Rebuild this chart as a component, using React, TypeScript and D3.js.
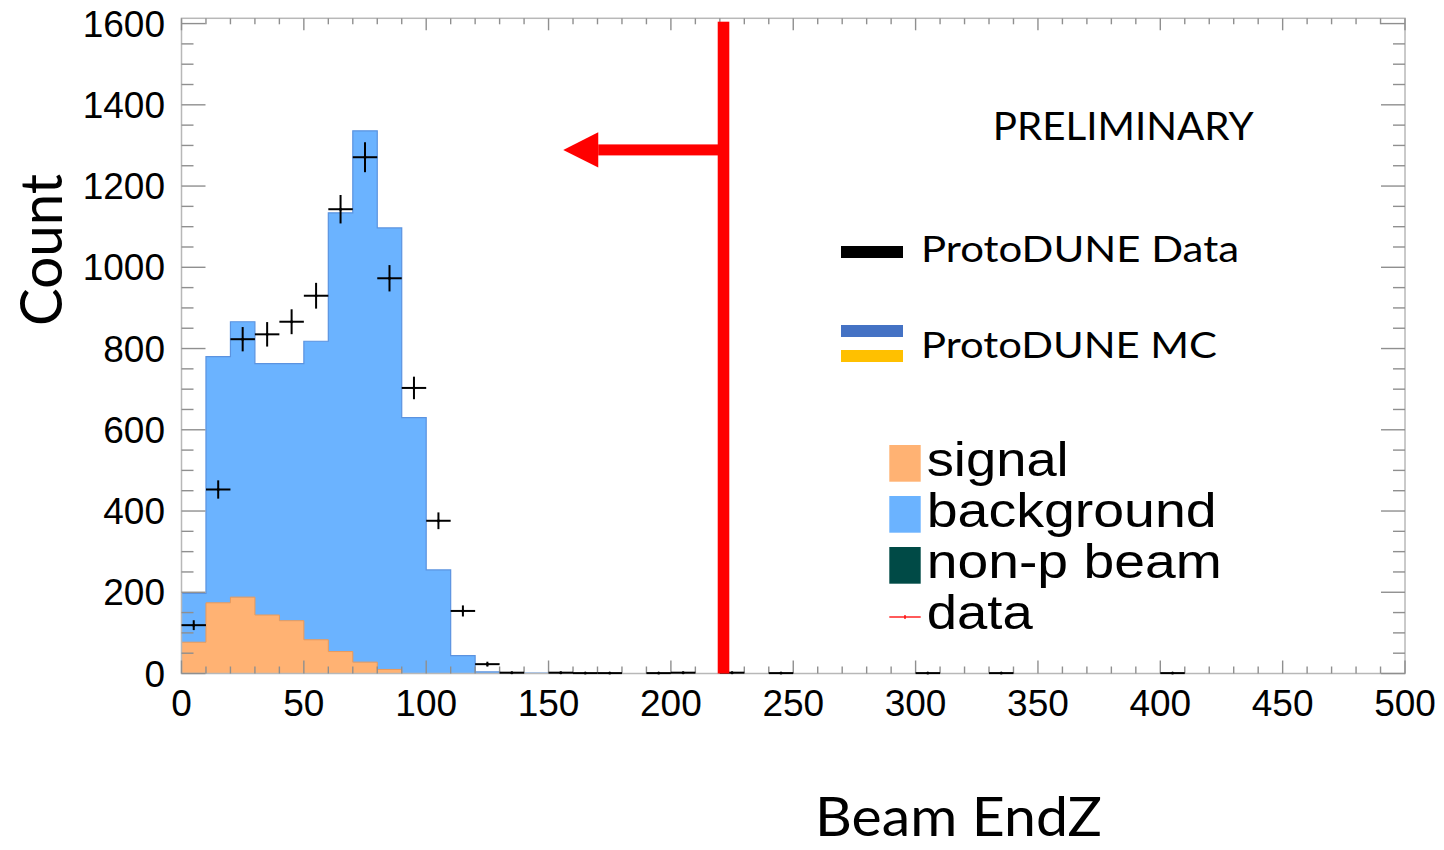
import React from "react";
import * as d3 from "d3";

// ---- data ----
const binWidth = 10;
const xDomain = [0, 500];
const xTickValues = [0, 50, 100, 150, 200, 250, 300, 350, 400, 450, 500];
const yTickValues = [0, 200, 400, 600, 800, 1000, 1200, 1400, 1600];
// stacked MC histogram, bins of 10 starting at 0 (remaining bins are empty)
const signal = [77, 174, 188, 144, 130, 83, 54, 28, 10, 0, 0, 0, 0, 0, 0];
const background = [120, 606, 678, 619, 633, 735, 1080, 1308, 1087, 630, 255, 44, 4, 1, 1];
// ProtoDUNE data points (bin centers and counts)
const dataCenters = [5, 15, 25, 35, 45, 55, 65, 75, 85, 95, 105, 115, 125, 135, 155, 165, 175, 195, 205, 225, 245, 305, 335, 405];
const dataCounts = [119, 453, 823, 835, 866, 930, 1143, 1271, 973, 703, 376, 154, 23, 2, 2, 1, 1, 1, 2, 2, 1, 1, 1, 1];
// annotation: cut value and arrow
const cutValue = 221.5;
const arrowY = 1289;
const arrowTip = 156;
const legendEntries = ["signal", "background", "non-p beam", "data"];

const W = 1444;
const H = 850;
const PL = 181.5, PR = 1405, PT = 18.3, PB = 673.5;

export default function App() {
  const x = d3.scaleLinear().domain(xDomain).range([PL, PR]);
  const y = d3.scaleLinear().domain([0, 1613]).range([PB, PT]);

  const stepPts = (vals: number[]) => {
    const pts: [number, number][] = [];
    vals.forEach((v, i) => {
      pts.push([i * binWidth, v]);
      pts.push([(i + 1) * binWidth, v]);
    });
    return pts;
  };
  const total = signal.map((s, i) => s + background[i]);
  const area = d3
    .area<[number, number]>()
    .x((d) => x(d[0]))
    .y0(y(0))
    .y1((d) => y(d[1]));
  const line = d3
    .line<[number, number]>()
    .x((d) => x(d[0]))
    .y((d) => y(d[1]));

  const minorX = d3.range(0, 501, 10);
  const minorY = d3.range(0, 1601, 50);
  const tickCol = "#8f8f8f";
  const frameCol = "#b8b8b8";

  const xc = x(cutValue);
  const ay = y(arrowY);
  const tipX = x(arrowTip);

  const officeFont = "Lato, 'Open Sans', sans-serif";
  const rootFont = "'Liberation Sans', Arial, sans-serif";

  const boxColors = ["#ffb273", "#6bb3ff", "#004a46"];

  return (
    <svg
      width={W}
      height={H}
      style={{ position: "absolute", left: 0, top: 0, display: "block", background: "#fff" }}
    >
      <rect x={0} y={0} width={W} height={H} fill="#fff" />
      {/* MC stacks */}
      <path d={area(stepPts(total)) || ""} fill="#6bb3ff" />
      <path d={line(stepPts(total)) || ""} fill="none" stroke="#5b93e0" strokeWidth={1.2} />
      <path d={area(stepPts(signal)) || ""} fill="#ffb273" />
      <path d={line(stepPts(signal)) || ""} fill="none" stroke="#e99a5a" strokeWidth={1} />

      {/* frame */}
      <rect x={PL} y={PT} width={PR - PL} height={PB - PT} fill="none" stroke={frameCol} strokeWidth={1.5} />
      {/* x ticks bottom/top */}
      {minorX.map((v) => {
        const major = v % 50 === 0;
        return (
          <g key={"xt" + v} stroke={tickCol} strokeWidth={1.4}>
            <line x1={x(v)} x2={x(v)} y1={PB} y2={PB - (major ? 13 : 7)} />
            <line x1={x(v)} x2={x(v)} y1={PT} y2={PT + (major ? 12 : 6)} />
          </g>
        );
      })}
      {minorY.map((v) => {
        const major = v % 200 === 0;
        return (
          <g key={"yt" + v} stroke={tickCol} strokeWidth={1.4}>
            <line x1={PL} x2={PL + (major ? 24 : 12)} y1={y(v)} y2={y(v)} />
            <line x1={PR} x2={PR - (major ? 24 : 12)} y1={y(v)} y2={y(v)} />
          </g>
        );
      })}

      {/* data points */}
      {dataCenters.map((c, i) => {
        const n = dataCounts[i];
        const e = Math.sqrt(n);
        return (
          <g key={"d" + i} stroke="#000" strokeWidth={2}>
            <line x1={x(c - binWidth / 2)} x2={x(c + binWidth / 2)} y1={y(n)} y2={y(n)} />
            <line x1={x(c)} x2={x(c)} y1={y(n - e) + 0.5} y2={y(n + e) - 0.5} />
            <circle cx={x(c)} cy={y(n)} r={1.5} fill="#000" stroke="none" />
          </g>
        );
      })}

      {/* tick labels */}
      {yTickValues.map((v) => (
        <text key={"yl" + v} x={165} y={y(v) + 13} textAnchor="end" fontFamily={rootFont} fontSize={37} fill="#000">
          {v}
        </text>
      ))}
      {xTickValues.map((v) => (
        <text key={"xl" + v} x={x(v)} y={716} textAnchor="middle" fontFamily={rootFont} fontSize={37} fill="#000">
          {v}
        </text>
      ))}

      {/* cut line and arrow */}
      <rect x={xc - 5.8} y={21.7} width={11.6} height={PB - 21.7} fill="#ff0000" />
      <rect x={tipX + 35} y={ay - 5.5} width={xc - tipX - 35} height={11} fill="#ff0000" />
      <path d={`M${tipX},${ay} L${tipX + 35},${ay - 17.7} L${tipX + 35},${ay + 17.7} Z`} fill="#ff0000" />

      {/* PRELIMINARY */}
      <text x={992.7} y={140} fontFamily={officeFont} fontSize={39} textLength={261} lengthAdjust="spacingAndGlyphs" fill="#000">
        PRELIMINARY
      </text>

      {/* Office legend */}
      <rect x={841} y={246} width={62} height={12} fill="#000" />
      <text x={921} y={262} fontFamily={officeFont} fontSize={36} textLength={318} lengthAdjust="spacingAndGlyphs" fill="#000">
        ProtoDUNE Data
      </text>
      <rect x={841} y={325} width={62} height={12} fill="#4472c4" />
      <rect x={841} y={350} width={62} height={12} fill="#ffc000" />
      <text x={921} y={358} fontFamily={officeFont} fontSize={36} textLength={296} lengthAdjust="spacingAndGlyphs" fill="#000">
        ProtoDUNE MC
      </text>

      {/* ROOT legend */}
      {legendEntries.map((lab, i) => {
        const top = 445 + i * 51;
        const lens = [142, 290, 295, 106];
        return (
          <g key={"lg" + i}>
            {i < 3 ? (
              <rect x={889.3} y={top} width={31.4} height={36.7} fill={boxColors[i]} />
            ) : (
              <g stroke="#ff0000" strokeWidth={1.3}>
                <line x1={889.3} x2={920.7} y1={617} y2={617} />
                <line x1={905} x2={905} y1={615} y2={619} />
              </g>
            )}
            <text
              x={926.7}
              y={top + 30.5}
              fontFamily={rootFont}
              fontSize={49}
              textLength={lens[i]}
              lengthAdjust="spacingAndGlyphs"
              fill="#000"
            >
              {lab}
            </text>
          </g>
        );
      })}

      {/* axis titles */}
      <text
        transform={`translate(62,250) rotate(-90)`}
        textAnchor="middle"
        fontFamily={officeFont}
        fontSize={58}
        textLength={152}
        lengthAdjust="spacingAndGlyphs"
        fill="#000"
      >
        Count
      </text>
      <text x={815} y={836} fontFamily={officeFont} fontSize={55} textLength={287} lengthAdjust="spacingAndGlyphs" fill="#000">
        Beam EndZ
      </text>
    </svg>
  );
}
